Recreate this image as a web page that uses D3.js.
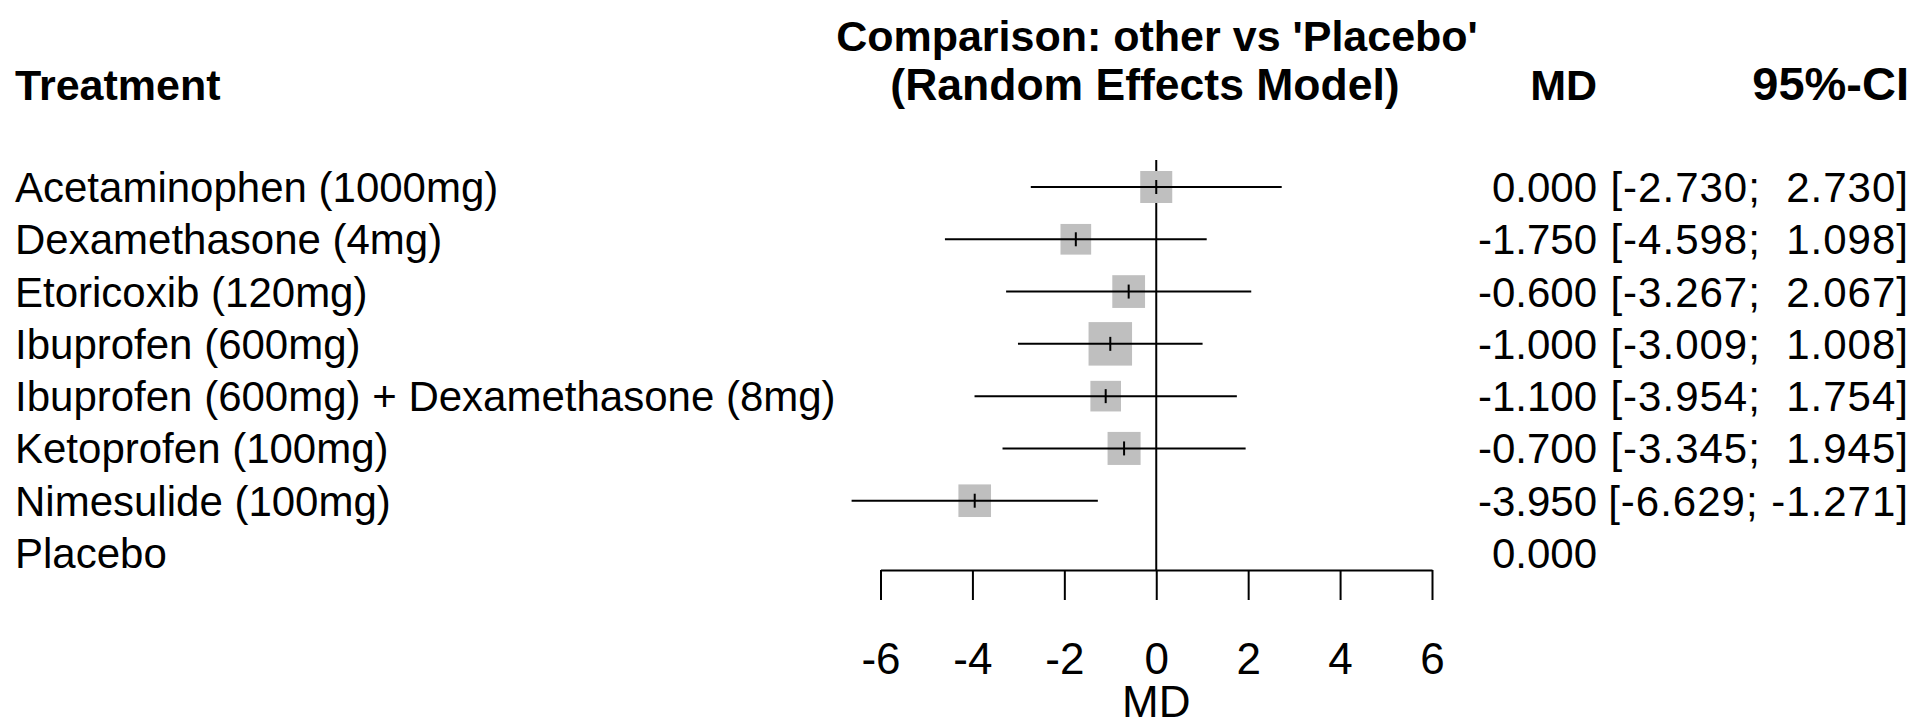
<!DOCTYPE html>
<html>
<head>
<meta charset="utf-8">
<script src="https://cdn.jsdelivr.net/npm/d3@7"></script>
<style>
  body { margin: 0; background: #fff; }
  svg { display: block; font-family: "Liberation Sans", Arial, sans-serif; }
  .pre { white-space: pre; }
</style>
</head>
<body>
<div id="viz"></div>
<script>
// treatments and estimates
var treatments = ["Acetaminophen (1000mg)", "Dexamethasone (4mg)", "Etoricoxib (120mg)",
    "Ibuprofen (600mg)", "Ibuprofen (600mg) + Dexamethasone (8mg)", "Ketoprofen (100mg)",
    "Nimesulide (100mg)", "Placebo"];
var md    = [0.000, -1.750, -0.600, -1.000, -1.100, -0.700, -3.950, 0.000];
var lower = [-2.730, -4.598, -3.267, -3.009, -3.954, -3.345, -6.629, null];
var upper = [2.730, 1.098, 2.067, 1.008, 1.754, 1.945, -1.271, null];
var xTicks = [-6, -4, -2, 0, 2, 4, 6];

var width = 1915, height = 726;

var svg = d3.select("#viz").append("svg")
    .attr("width", width)
    .attr("height", height);

var x = d3.scaleLinear().domain([-6, 6]).range([880.5, 1432]);
var y = d3.scalePoint().domain(treatments).range([187, 553]);

var rows = treatments.map(function (t, i) {
    return {name: t, md: md[i], lo: lower[i], hi: upper[i],
        se: lower[i] == null ? null : (upper[i] - lower[i]) / (2 * 1.96)};
});

// square size goes with 1/se (meta style)
var boxSize = d3.scaleLinear().domain([0, 1 / 1.393]).range([0, 32]);

var fmt = d3.format(".3f");
function num(v) { return fmt(v).replace("\u2212", "-"); }

// headers
svg.append("text").attr("x", 15).attr("y", 100)
    .attr("font-size", 43).attr("font-weight", "bold").text("Treatment");
svg.append("text").attr("x", 1157).attr("y", 51).attr("text-anchor", "middle")
    .attr("font-size", 43).attr("font-weight", "bold").text("Comparison: other vs 'Placebo'");
svg.append("text").attr("x", 1145).attr("y", 100).attr("text-anchor", "middle")
    .attr("font-size", 44.5).attr("font-weight", "bold").text("(Random Effects Model)");
svg.append("text").attr("x", 1597).attr("y", 100).attr("text-anchor", "end")
    .attr("font-size", 43).attr("font-weight", "bold").text("MD");
svg.append("text").attr("x", 1909).attr("y", 100).attr("text-anchor", "end")
    .attr("font-size", 47).attr("font-weight", "bold").text("95%-CI");

// reference line at 0
svg.append("line")
    .attr("x1", x(0)).attr("x2", x(0))
    .attr("y1", 160).attr("y2", 570)
    .attr("stroke", "#000").attr("stroke-width", 2);

var g = svg.append("g");
var rowG = g.selectAll("g.row").data(rows).join("g").attr("class", "row");

rowG.append("text")
    .attr("x", 15).attr("y", d => y(d.name) + 15)
    .attr("font-size", 42)
    .text(d => d.name);

rowG.append("text")
    .attr("x", 1597).attr("y", d => y(d.name) + 15)
    .attr("text-anchor", "end").attr("font-size", 42)
    .text(d => num(d.md));

rowG.filter(d => d.lo != null).append("text")
    .attr("class", "pre")
    .attr("x", 1909).attr("y", d => y(d.name) + 15)
    .attr("text-anchor", "end").attr("font-size", 42)
    .attr("letter-spacing", 1)
    .text(d => "[" + num(d.lo) + ";" + (d.hi < 0 ? " " : "  ") + num(d.hi) + "]");

var est = rowG.filter(d => d.lo != null);

est.append("rect")
    .attr("x", d => x(d.md) - boxSize(1 / d.se) / 2)
    .attr("y", d => y(d.name) - boxSize(1 / d.se) / 2)
    .attr("width", d => boxSize(1 / d.se))
    .attr("height", d => boxSize(1 / d.se))
    .attr("fill", "#bfbfbf");

est.append("line")
    .attr("x1", d => x(d.lo)).attr("x2", d => x(d.hi))
    .attr("y1", d => y(d.name)).attr("y2", d => y(d.name))
    .attr("stroke", "#000").attr("stroke-width", 2);

est.append("line")
    .attr("x1", d => x(d.md)).attr("x2", d => x(d.md))
    .attr("y1", d => y(d.name) - 7).attr("y2", d => y(d.name) + 7)
    .attr("stroke", "#000").attr("stroke-width", 2);

// x axis
var axis = svg.append("g")
    .attr("transform", "translate(0,570)")
    .call(d3.axisBottom(x).tickValues(xTicks).tickSize(30).tickSizeOuter(0)
        .tickFormat(d => String(d)));
axis.select(".domain").attr("stroke", "#000").attr("stroke-width", 2);
axis.selectAll(".tick line").attr("stroke", "#000").attr("stroke-width", 2);
axis.selectAll(".tick text")
    .attr("y", 104).attr("dy", 0)
    .attr("font-size", 44).attr("fill", "#000")
    .attr("font-family", "\"Liberation Sans\", Arial, sans-serif");

svg.append("text").attr("x", x(0)).attr("y", 717).attr("text-anchor", "middle")
    .attr("font-size", 44).text("MD");
</script>
</body>
</html>
